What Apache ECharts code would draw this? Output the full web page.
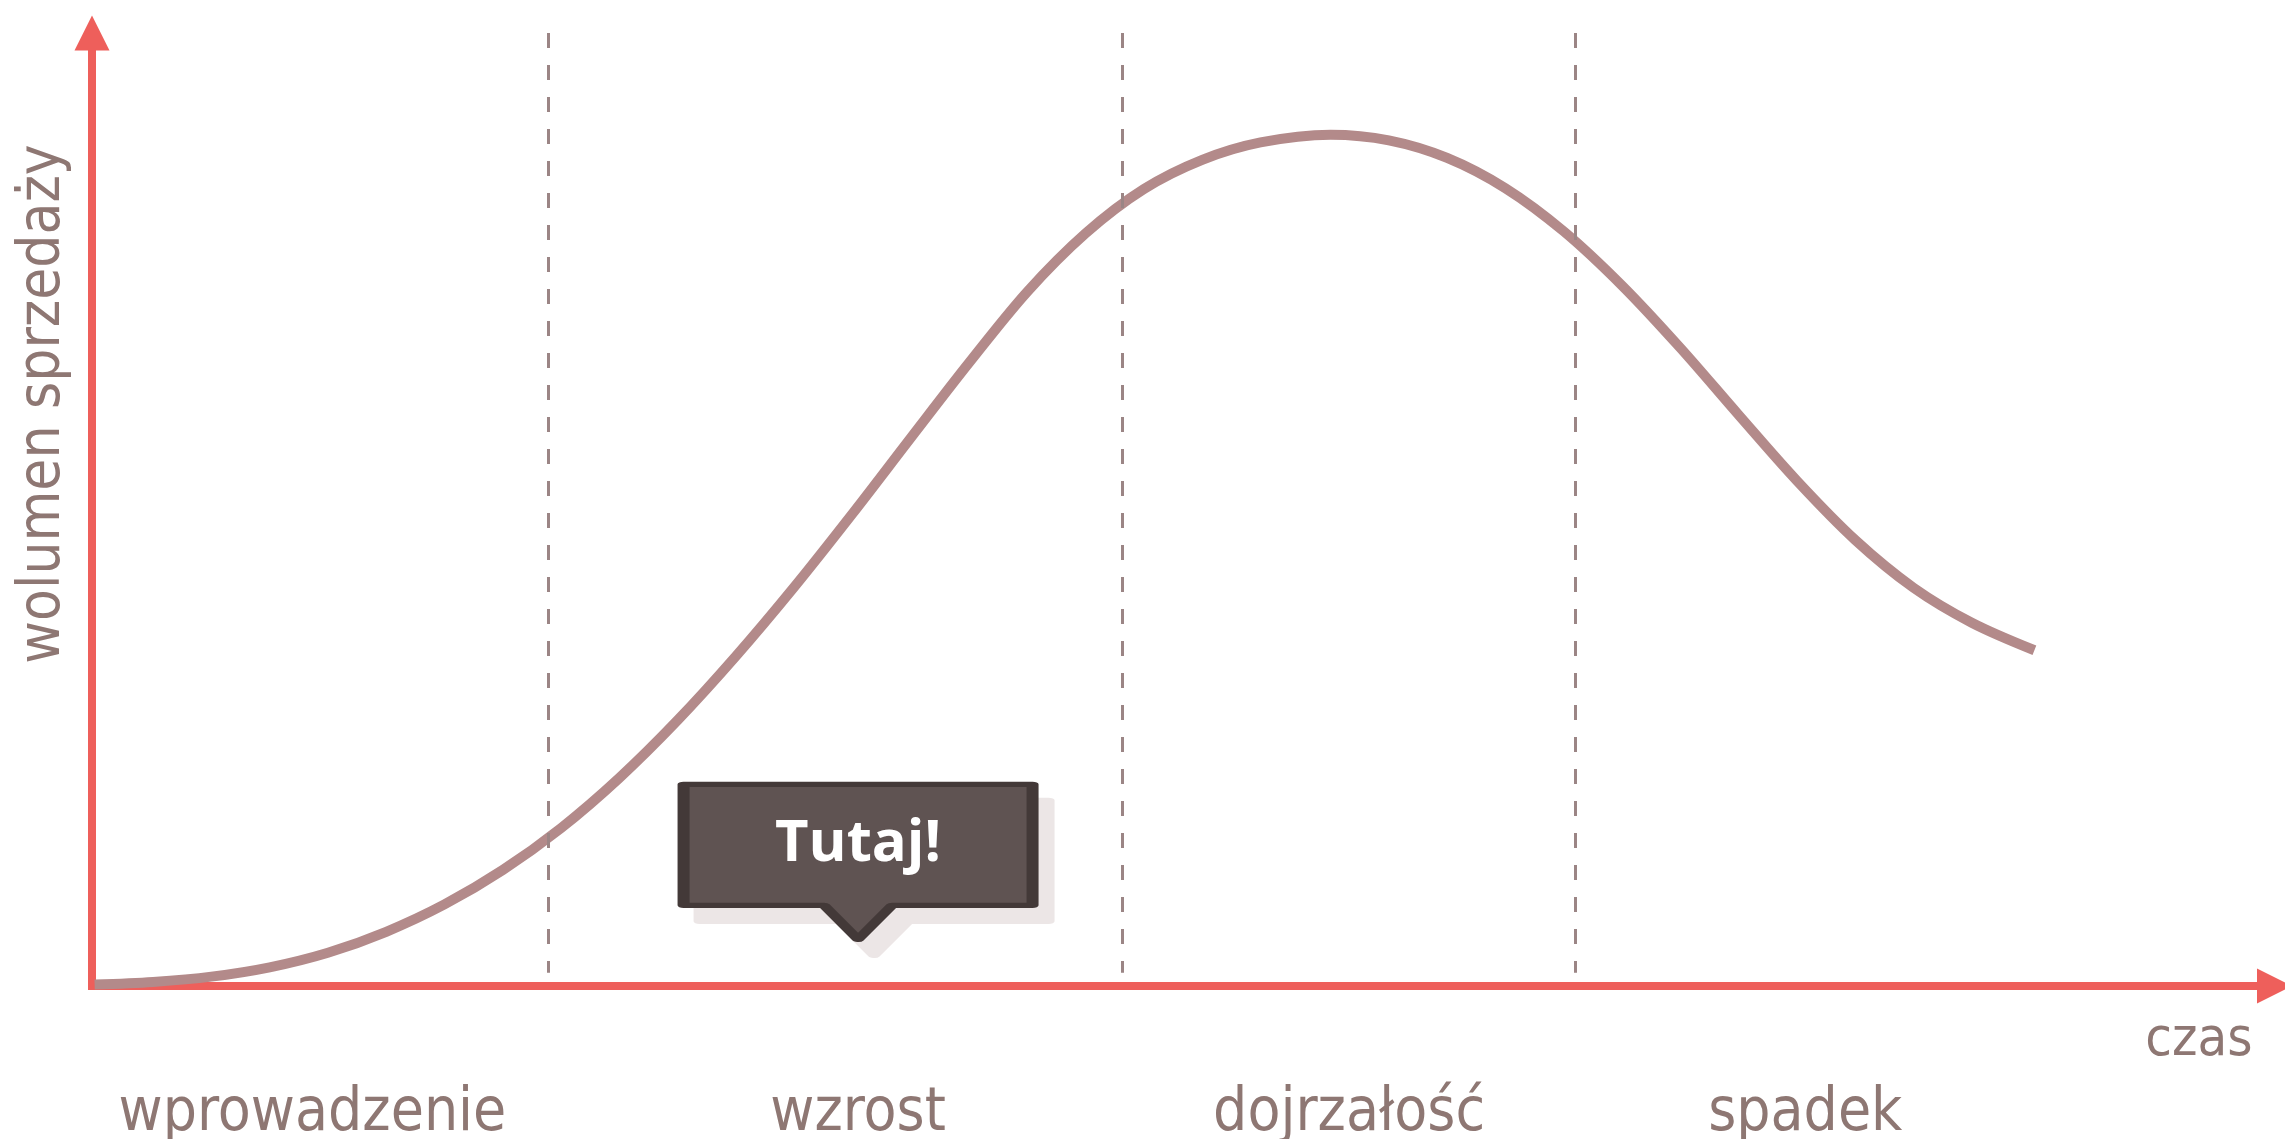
<!DOCTYPE html>
<html>
<head>
<meta charset="utf-8">
<title>Cykl życia produktu</title>
<script src="https://cdn.jsdelivr.net/npm/echarts@6/dist/echarts.min.js"></script>
<style>
  html, body { margin: 0; padding: 0; background: #fff; }
  #chart { width: 2285px; height: 1139px; }
</style>
</head>
<body>
<div id="chart"></div>
<script>
// krzywa cyklu zycia produktu: czas (0-100) i wolumen sprzedazy (0-100)
var curveTime = [0.12, 2.80, 5.47, 8.14, 10.81, 13.48, 16.15, 18.82, 21.49, 24.16, 26.83, 29.50, 32.18,
  34.85, 37.52, 40.19, 42.86, 45.53, 48.20, 50.87, 53.54, 56.75, 59.42, 62.09, 64.76, 67.43, 70.10,
  72.77, 75.44, 78.11, 80.79, 83.46, 86.13, 89.00];
var curveVolume = [0.15, 0.43, 0.98, 1.96, 3.49, 5.69, 8.56, 12.17, 16.57, 21.83, 27.88, 34.60, 41.88,
  49.58, 57.53, 65.41, 72.87, 78.99, 83.63, 86.69, 88.52, 89.33, 88.74, 86.90, 83.72, 79.20, 73.51,
  66.97, 59.94, 53.03, 46.80, 41.79, 38.12, 35.23];

var phaseNames = ['wprowadzenie', 'wzrost', 'dojrzałość', 'spadek'];
var phaseLabelAt = [10.1, 35.1, 57.6, 78.5];
var phaseBorders = [20.9, 47.2, 67.95];
var phaseTop = 100;
var phaseBottom = 1.4;

var calloutText = 'Tutaj!';
var calloutAt = [35.1, 4.9];

var axisRed = '#ee5f5b';
var textColor = '#8e7773';
var labelFont = 'DejaVu Sans Condensed';
var calloutPath = 'path://M0 0H349V121H208.5L174.5 155L140.5 121H0Z';

var points = curveTime.map(function (t, i) { return [t, curveVolume[i]]; });

var chart = echarts.init(document.getElementById('chart'));
chart.setOption({
  animation: false,
  backgroundColor: '#ffffff',
  grid: {
    left: 92,
    right: 10.5,
    top: 33,
    bottom: 153,
    containLabel: false,
    outerBoundsMode: 'none'
  },
  xAxis: {
    type: 'value',
    min: 0,
    max: 100,
    name: 'czas',
    nameLocation: 'end',
    nameGap: -22,
    nameMoveOverlap: false,
    nameTextStyle: {
      color: textColor,
      fontFamily: labelFont,
      fontSize: 54,
      lineHeight: 54,
      align: 'right',
      verticalAlign: 'top',
      padding: [28, 0, 0, 0]
    },
    axisLine: {
      show: true,
      symbol: ['none', 'triangle'],
      symbolSize: [35, 35],
      lineStyle: { color: axisRed, width: 8, cap: 'square' }
    },
    axisTick: { show: false },
    splitLine: { show: false },
    axisLabel: {
      show: true,
      customValues: phaseLabelAt,
      margin: 98,
      color: textColor,
      fontFamily: labelFont,
      fontSize: 60,
      formatter: function (v) {
        var i = phaseLabelAt.indexOf(v);
        return i >= 0 ? phaseNames[i] : '';
      }
    }
  },
  yAxis: {
    type: 'value',
    min: 0,
    max: 100,
    name: 'wolumen sprzedaży',
    nameLocation: 'middle',
    nameGap: 19,
    nameMoveOverlap: false,
    nameTextStyle: {
      color: textColor,
      fontFamily: labelFont,
      fontSize: 58,
      padding: [0, 0, 0, 211]
    },
    axisLine: {
      show: true,
      symbol: ['none', 'triangle'],
      symbolSize: [35, 35],
      lineStyle: { color: axisRed, width: 8, cap: 'square' }
    },
    axisTick: { show: false },
    axisLabel: { show: false },
    splitLine: { show: false }
  },
  series: [{
    type: 'line',
    data: points,
    smooth: 0.33,
    showSymbol: false,
    silent: true,
    z: 3,
    lineStyle: { color: '#b38a8a', width: 10, cap: 'butt' },
    markLine: {
      silent: true,
      symbol: ['none', 'none'],
      label: { show: false },
      lineStyle: { color: '#9b8585', width: 3, type: [15, 17] },
      data: phaseBorders.map(function (x) {
        return [{ coord: [x, phaseTop] }, { coord: [x, phaseBottom] }];
      })
    },
    markPoint: {
      silent: true,
      symbol: calloutPath,
      symbolSize: [349, 155],
      data: [
        {
          // plaski cien pod dymkiem
          coord: calloutAt,
          symbolOffset: [16, -61.5],
          itemStyle: {
            color: '#ece6e6',
            borderColor: '#ece6e6',
            borderWidth: 8,
            borderJoin: 'round'
          },
          label: { show: false }
        },
        {
          coord: calloutAt,
          symbolOffset: [0, -77.5],
          itemStyle: {
            color: '#5f5352',
            borderColor: '#433938',
            borderWidth: 8,
            borderJoin: 'round'
          },
          label: {
            show: true,
            position: 'inside',
            offset: [0, -17],
            formatter: calloutText,
            color: '#ffffff',
            fontFamily: 'Open Sans',
            fontWeight: 'bold',
            fontSize: 58
          }
        }
      ]
    }
  }]
});
</script>
</body>
</html>
